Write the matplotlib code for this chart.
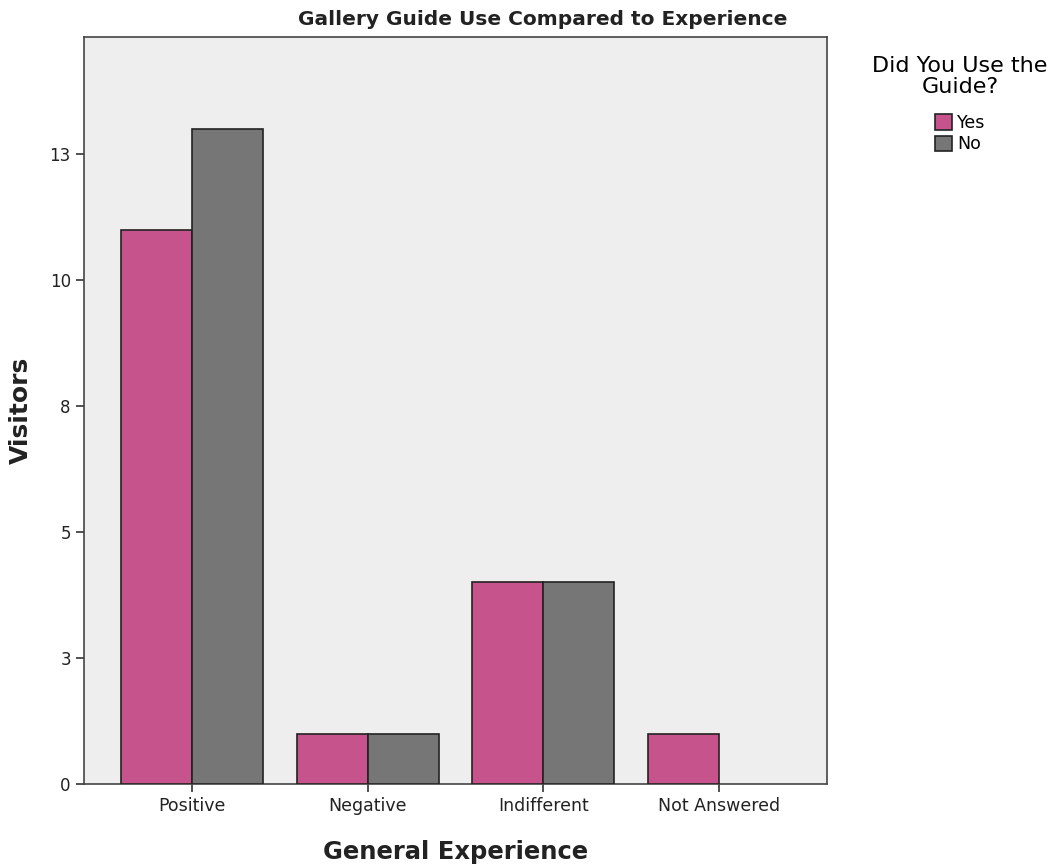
import matplotlib
matplotlib.use("Agg")
import matplotlib.pyplot as plt
import numpy as np

categories = ["Positive", "Negative", "Indifferent", "Not Answered"]
yes_values = [11, 1, 4, 1]
no_values = [13, 1, 4, 0]
series_names = ["Yes", "No"]
ytick_values = [0, 2.5, 5, 7.5, 10, 12.5]
ytick_labels = ["0", "3", "5", "8", "10", "13"]

pink = "#C7538D"
gray = "#767676"

fig = plt.figure(figsize=(10.57, 8.65), dpi=100)
ax = fig.add_axes([0.0795, 0.0936, 0.7029, 0.8636])
ax.set_facecolor("#EEEEEE")

x = np.arange(len(categories))
w = 0.404
for vals, off, col, name in [(yes_values, -w / 2, pink, series_names[0]),
                             (no_values, w / 2, gray, series_names[1])]:
    bars = ax.bar(x + off, vals, width=w, color=col, edgecolor="#222222",
                  linewidth=1.2, label=name, zorder=3)
    for b, v in zip(bars, vals):
        if v == 0:
            b.set_visible(False)

ax.set_xlim(-0.615, 3.615)
ax.set_ylim(0, 14.82)
ax.set_yticks(ytick_values)
ax.set_yticklabels(ytick_labels, fontsize=12, color="#222222")
ax.set_xticks(x)
ax.set_xticklabels(categories, fontsize=12.5, color="#222222")
ax.tick_params(axis="both", length=6, width=1.2, color="#333333")
for s in ax.spines.values():
    s.set_color("#444444")
    s.set_linewidth(1.2)

ax.set_xlabel("General Experience", fontsize=17.5, fontweight="bold", labelpad=18, color="#222222")
ax.set_ylabel("Visitors", fontsize=18, fontweight="bold", labelpad=12, color="#222222")
fig.text(0.513, 0.978, "Gallery Guide Use Compared to Experience",
         ha="center", va="center", fontsize=14.5, fontweight="bold", color="#222222")

leg = ax.legend(loc="upper left", bbox_to_anchor=(1.04, 0.995), frameon=False,
                title="Did You Use the\nGuide?", fontsize=12.5, title_fontsize=16,
                handlelength=1.0, handleheight=1.0, handletextpad=0.3, labelspacing=0.2)
leg.get_title().set_multialignment("center")
leg.get_title().set_linespacing(1.05)
leg._legend_box.sep = 12
for h in leg.legend_handles:
    h.set_edgecolor("#222222")
    h.set_visible(True)

fig.savefig("out.png", dpi=100)
